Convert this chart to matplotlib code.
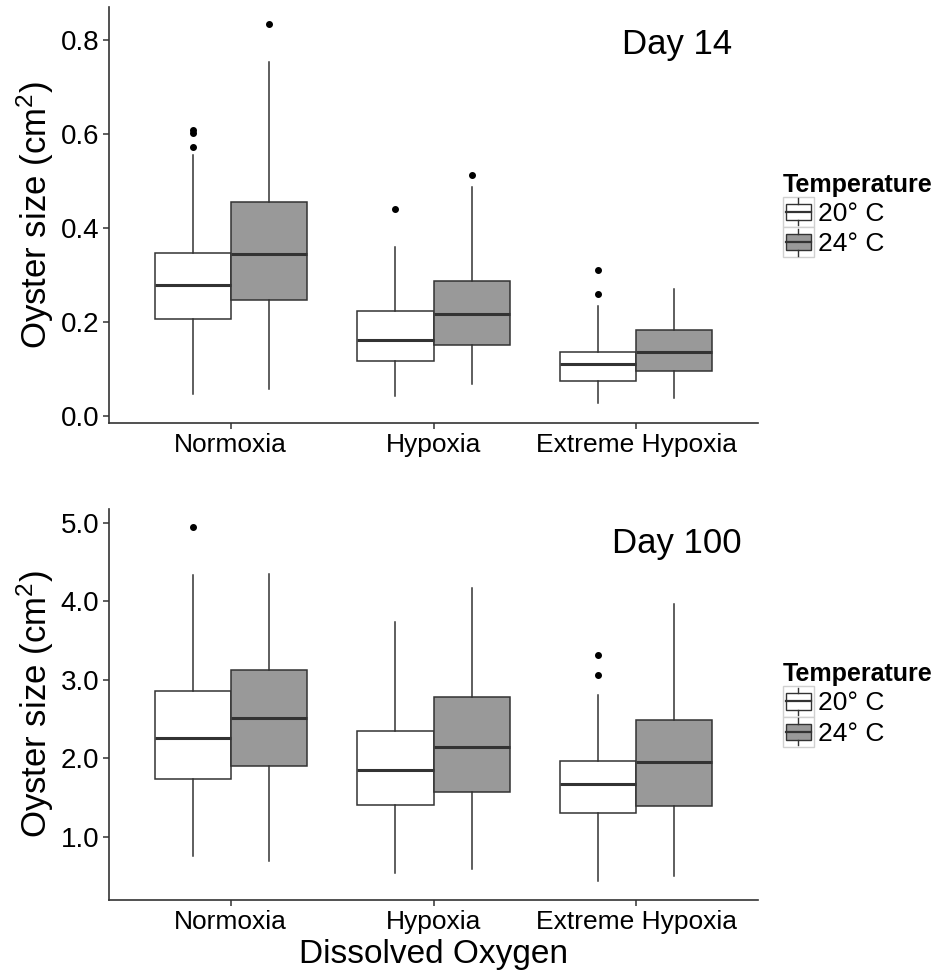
import matplotlib
matplotlib.use("Agg")
import matplotlib.pyplot as plt
from matplotlib.legend_handler import HandlerBase
from matplotlib.patches import Rectangle, Patch
from matplotlib.lines import Line2D

plt.rcParams['font.family'] = ['Liberation Sans', 'DejaVu Sans']
plt.rcParams['mathtext.fontset'] = 'custom'
plt.rcParams['mathtext.rm'] = 'Liberation Sans'
plt.rcParams['mathtext.it'] = 'Liberation Sans:italic'

# --- data (order: Normoxia 20, Normoxia 24, Hypoxia 20, Hypoxia 24, Extreme 20, Extreme 24)
categories = ["Normoxia", "Hypoxia", "Extreme Hypoxia"]
temps = ["20° C", "24° C"]
fills = ["white", "#999999"]

d14_q1 = [0.206, 0.247, 0.116, 0.150, 0.074, 0.095]
d14_med = [0.278, 0.345, 0.161, 0.216, 0.111, 0.137]
d14_q3 = [0.347, 0.455, 0.223, 0.287, 0.135, 0.182]
d14_lo = [0.046, 0.058, 0.043, 0.067, 0.027, 0.038]
d14_hi = [0.555, 0.752, 0.359, 0.488, 0.234, 0.271]
d14_out = [[0.573, 0.603, 0.608], [0.834], [0.441], [0.512], [0.260, 0.310], []]

d100_q1 = [1.739, 1.897, 1.404, 1.573, 1.298, 1.387]
d100_med = [2.253, 2.512, 1.850, 2.147, 1.671, 1.952]
d100_q3 = [2.856, 3.120, 2.350, 2.780, 1.960, 2.487]
d100_lo = [0.750, 0.694, 0.533, 0.589, 0.436, 0.503]
d100_hi = [4.330, 4.347, 3.735, 4.170, 2.805, 3.965]
d100_out = [[4.95], [], [], [], [3.06, 3.32], []]

EDGE = '#333333'


class BoxKey(HandlerBase):
    # little boxplot glyph like ggplot's legend key
    def create_artists(self, legend, orig_handle, xdescent, ydescent,
                       width, height, fontsize, trans):
        x0, y0 = -xdescent, -ydescent
        cx = x0 + width / 2
        bg = Rectangle((x0, y0), width, height, fc='white', ec='#d0d0d0', lw=1.0,
                       transform=trans)
        box = Rectangle((x0 + 0.09 * width, y0 + 0.23 * height), 0.82 * width, 0.54 * height,
                        fc=orig_handle.get_facecolor(), ec=EDGE, lw=1.0, transform=trans)
        med = Line2D([x0 + 0.09 * width, x0 + 0.91 * width], [y0 + 0.5 * height] * 2,
                     color=EDGE, lw=1.6, transform=trans)
        w1 = Line2D([cx, cx], [y0 + 0.06 * height, y0 + 0.23 * height], color=EDGE, lw=1.0,
                    transform=trans)
        w2 = Line2D([cx, cx], [y0 + 0.77 * height, y0 + 0.94 * height], color=EDGE, lw=1.0,
                    transform=trans)
        return [bg, box, med, w1, w2]


def draw_panel(ax, q1, med, q3, lo, hi, out, ylim, yticks, day, day_y):
    stats = []
    pos = []
    for i in range(6):
        stats.append(dict(med=med[i], q1=q1[i], q3=q3[i], whislo=lo[i], whishi=hi[i],
                          fliers=out[i]))
        pos.append(i // 2 + 1 + (-0.1875 if i % 2 == 0 else 0.1875))
    bp = ax.bxp(stats, positions=pos, widths=0.375, patch_artist=True, showcaps=False,
                boxprops=dict(edgecolor=EDGE, linewidth=1.1),
                medianprops=dict(color=EDGE, linewidth=2.2),
                whiskerprops=dict(color=EDGE, linewidth=1.1),
                flierprops=dict(marker='o', markerfacecolor='black', markeredgecolor='black',
                                markersize=4))
    for i, b in enumerate(bp['boxes']):
        b.set_facecolor(fills[i % 2])

    ax.set_xlim(0.4, 3.6)
    ax.set_ylim(*ylim)
    ax.set_xticks([1, 2, 3])
    ax.set_xticklabels(categories, fontsize=19)
    ax.set_yticks(yticks)
    ax.set_yticklabels(["%.1f" % t for t in yticks], fontsize=20)
    for s in ['top', 'right']:
        ax.spines[s].set_visible(False)
    for s in ['left', 'bottom']:
        ax.spines[s].set_color(EDGE)
        ax.spines[s].set_linewidth(1.2)
    ax.tick_params(direction='out', length=4, width=1.1, color=EDGE, pad=3)
    ax.set_ylabel("Oyster size (cm$^2$)", fontsize=25)
    ax.yaxis.set_label_coords(-0.082, 0.5)
    ax.text(3.2, day_y, day, fontsize=25, ha='center', va='baseline')

    handles = [Patch(facecolor=fills[0]), Patch(facecolor=fills[1])]
    ax.legend(handles, temps, handler_map={Patch: BoxKey()}, title="Temperature",
              title_fontproperties={'weight': 'bold', 'size': 18}, fontsize=19,
              loc='center left', bbox_to_anchor=(1.0385, 0.5), frameon=False,
              borderpad=0, borderaxespad=0, handlelength=1.17, handleheight=1.4,
              handletextpad=0.15, labelspacing=0.0, alignment='left')


fig = plt.figure(figsize=(9.42, 9.76), dpi=100)
ax1 = fig.add_axes([0.1157, 0.5666, 0.689, 0.4262])
ax2 = fig.add_axes([0.1157, 0.0779, 0.689, 0.4003])

draw_panel(ax1, d14_q1, d14_med, d14_q3, d14_lo, d14_hi, d14_out,
           (-0.015, 0.87), [0.0, 0.2, 0.4, 0.6, 0.8], "Day 14", 0.770)
draw_panel(ax2, d100_q1, d100_med, d100_q3, d100_lo, d100_hi, d100_out,
           (0.194, 5.17), [1.0, 2.0, 3.0, 4.0, 5.0], "Day 100", 4.614)

ax2.set_xlabel("Dissolved Oxygen", fontsize=24)
ax2.xaxis.set_label_coords(0.5, -0.1)

fig.savefig("out.png", dpi=100)
